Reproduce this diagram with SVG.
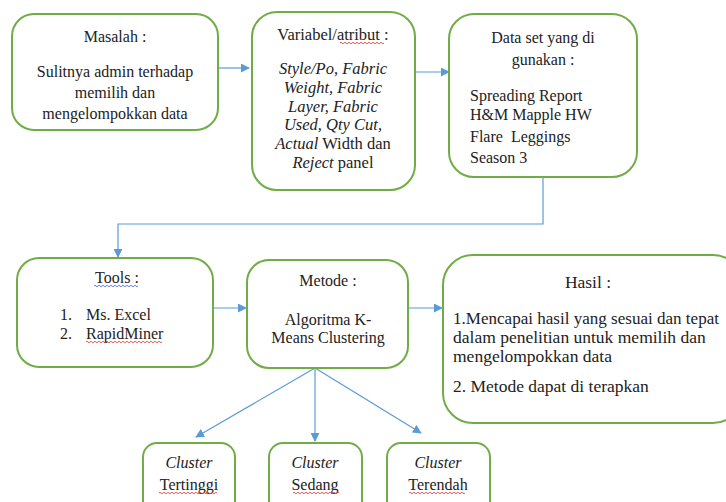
<svg xmlns="http://www.w3.org/2000/svg" width="726" height="502" viewBox="0 0 726 502" font-family="'Liberation Serif', 'Times New Roman', serif">
<defs>
<style>
.box{fill:#fff;stroke:#70ad47;stroke-width:2}
.c{fill:none;stroke:#5b9bd5;stroke-width:1.2}
text{font-family:'Liberation Serif','Times New Roman',serif;font-size:16px;fill:#222}
.v{font-size:16.5px}
.h{font-size:17.5px}
.m{text-anchor:middle}
.i{font-style:italic}
.sq{fill:none;stroke:#e03030;stroke-width:0.8}
.sb{fill:none;stroke:#4060e0;stroke-width:0.8}
</style>
<marker id="ah" viewBox="0 0 10 10" refX="9" refY="5" markerWidth="9" markerHeight="9" markerUnits="userSpaceOnUse" orient="auto">
<path d="M0,0 L10,5 L0,10 Z" fill="#5b9bd5"/>
</marker>
</defs>
<rect width="726" height="502" fill="#fff"/>
<g id="connectors">
<line class="c" x1="219" y1="68" x2="249" y2="68" marker-end="url(#ah)"/>
<line class="c" x1="415" y1="72" x2="449" y2="72" marker-end="url(#ah)"/>
<polyline class="c" points="543,178 543,224 118,224 118,257" marker-end="url(#ah)"/>
<line class="c" x1="213" y1="308" x2="246" y2="308" marker-end="url(#ah)"/>
<line class="c" x1="408" y1="308" x2="442" y2="308" marker-end="url(#ah)"/>
<line class="c" x1="315" y1="368" x2="196" y2="437" marker-end="url(#ah)"/>
<line class="c" x1="315" y1="368" x2="315" y2="441" marker-end="url(#ah)"/>
<line class="c" x1="315" y1="368" x2="421" y2="433" marker-end="url(#ah)"/>
</g>
<g id="masalah">
<rect class="box" x="12" y="14" width="206" height="116" rx="22"/>
<text class="m" x="115" y="42">Masalah :</text>
<text class="m" x="115" y="77">Sulitnya admin terhadap</text>
<text class="m" x="115" y="98">memilih dan</text>
<text class="m" x="115" y="119">mengelompokkan data</text>
</g>
<g id="variabel">
<rect class="box" x="252" y="12" width="163" height="178" rx="25"/>
<text class="m v" x="333" y="40">Variabel/atribut :</text>
<path class="sq" d="M340,43 q1,-1.5 2,0 t2,0 t2,0 t2,0 t2,0 t2,0 t2,0 t2,0 t2,0 t2,0 t2,0 t2,0 t2,0 t2,0 t2,0 t2,0 t2,0 t2,0 t2,0 t2,0 t2,0 t2,0"/>
<text class="m v" x="333" y="74"><tspan class="i">Style/Po</tspan>, <tspan class="i">Fabric</tspan></text>
<text class="m i v" x="333" y="93">Weight, Fabric</text>
<text class="m i v" x="333" y="112">Layer, Fabric</text>
<text class="m i v" x="333" y="130">Used, Qty Cut,</text>
<text class="m v" x="333" y="149"><tspan class="i">Actual</tspan> Width dan</text>
<text class="m v" x="333" y="168"><tspan class="i">Reject</tspan> panel</text>
</g>
<g id="dataset">
<rect class="box" x="449" y="14" width="188" height="163" rx="25"/>
<text class="m" x="543" y="43">Data set yang di</text>
<text class="m" x="543" y="65">gunakan :</text>
<text x="470" y="101">Spreading Report</text>
<text x="470" y="120">H&amp;M Mapple HW</text>
<text x="470" y="142" xml:space="preserve">Flare  Leggings</text>
<text x="470" y="163">Season 3</text>
</g>
<g id="tools">
<rect class="box" x="17" y="258" width="196" height="109" rx="22"/>
<text class="m" x="117" y="283">Tools :</text>
<path class="sb" d="M94,286 q1,-1.5 2,0 t2,0 t2,0 t2,0 t2,0 t2,0 t2,0 t2,0 t2,0 t2,0 t2,0 t2,0 t2,0 t2,0 t2,0 t2,0 t2,0 t2,0 t2,0 t2,0 t2,0 t2,0"/>
<text x="60" y="320">1.</text>
<text x="86" y="320">Ms. Excel</text>
<text x="60" y="339">2.</text>
<text x="86" y="339">RapidMiner</text>
<path class="sq" d="M86,342 q1,-1.5 2,0 t2,0 t2,0 t2,0 t2,0 t2,0 t2,0 t2,0 t2,0 t2,0 t2,0 t2,0 t2,0 t2,0 t2,0 t2,0 t2,0 t2,0 t2,0 t2,0 t2,0 t2,0 t2,0 t2,0 t2,0 t2,0 t2,0 t2,0 t2,0 t2,0 t2,0 t2,0 t2,0 t2,0 t2,0 t2,0 t2,0 t2,0"/>
</g>
<g id="metode">
<rect class="box" x="247" y="260" width="161" height="108" rx="22"/>
<text class="m" x="328" y="286">Metode :</text>
<text class="m" x="328" y="325">Algoritma K-</text>
<text class="m" x="328" y="343">Means Clustering</text>
</g>
<g id="hasil">
<rect class="box" x="443" y="255" width="300" height="168" rx="30"/>
<text class="m h" x="588" y="288">Hasil :</text>
<text class="h" x="453" y="324" textLength="266" lengthAdjust="spacingAndGlyphs">1.Mencapai hasil yang sesuai dan tepat</text>
<text class="h" x="453" y="343">dalam penelitian untuk memilih dan</text>
<text class="h" x="453" y="362">mengelompokkan data</text>
<text class="h" x="453" y="392">2. Metode dapat di terapkan</text>
</g>
<g id="cluster-tertinggi">
<rect class="box" x="143" y="443" width="92" height="80" rx="14"/>
<text class="m i" x="189" y="468">Cluster</text>
<text class="m" x="189" y="490">Tertinggi</text>
<path class="sq" d="M159,493 q1,-1.5 2,0 t2,0 t2,0 t2,0 t2,0 t2,0 t2,0 t2,0 t2,0 t2,0 t2,0 t2,0 t2,0 t2,0 t2,0 t2,0 t2,0 t2,0 t2,0 t2,0 t2,0 t2,0 t2,0 t2,0 t2,0 t2,0 t2,0 t2,0 t2,0"/>
</g>
<g id="cluster-sedang">
<rect class="box" x="269" y="443" width="93" height="80" rx="14"/>
<text class="m i" x="315" y="468">Cluster</text>
<text class="m" x="315" y="490">Sedang</text>
<path class="sq" d="M293,493 q1,-1.5 2,0 t2,0 t2,0 t2,0 t2,0 t2,0 t2,0 t2,0 t2,0 t2,0 t2,0 t2,0 t2,0 t2,0 t2,0 t2,0 t2,0 t2,0 t2,0 t2,0 t2,0 t2,0 t2,0"/>
</g>
<g id="cluster-terendah">
<rect class="box" x="387" y="443" width="103" height="80" rx="14"/>
<text class="m i" x="438" y="468">Cluster</text>
<text class="m" x="438" y="490">Terendah</text>
<path class="sq" d="M409,493 q1,-1.5 2,0 t2,0 t2,0 t2,0 t2,0 t2,0 t2,0 t2,0 t2,0 t2,0 t2,0 t2,0 t2,0 t2,0 t2,0 t2,0 t2,0 t2,0 t2,0 t2,0 t2,0 t2,0 t2,0 t2,0 t2,0 t2,0 t2,0 t2,0"/>
</g>
</svg>
